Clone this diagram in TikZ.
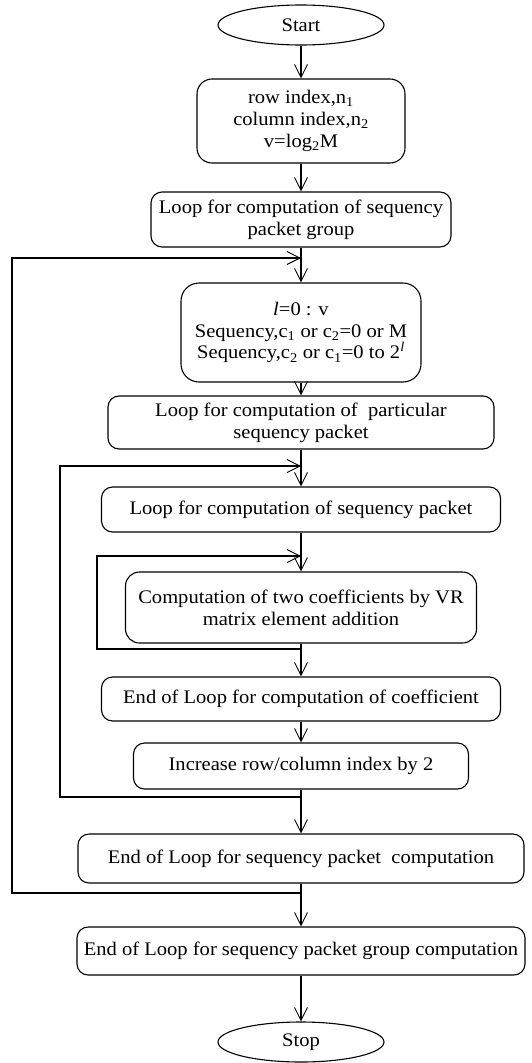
\documentclass[tikz,border=0pt]{standalone}
\usepackage{fontspec}
\setmainfont{Liberation Serif}[FakeStretch=1.07]
\usetikzlibrary{shapes.geometric,arrows.meta}
\begin{document}
\begin{tikzpicture}[x=1pt,y=-1pt,
  every node/.style={font=\fontsize{19.2}{21.8}\selectfont, align=center, inner sep=0pt},
  box/.style={draw, line width=1.1pt, rounded corners=11pt},
  term/.style={draw, line width=1.1pt, ellipse, minimum width=166pt, minimum height=40pt},
  flow/.style={line width=1.1pt, -{Straight Barb[length=13pt,width=13pt,line width=0.9pt]}},
  link/.style={line width=1.1pt}]
\useasboundingbox (0,0) rectangle (531,1063);

\node[term] (start) at (301,25) {Start};
\node[box, minimum width=208pt, minimum height=84pt, rounded corners=15pt] (init) at (301,121)
  {row index,n\textsubscript{1}\\column index,n\textsubscript{2}\\v=log\textsubscript{2}M};
\node[box, minimum width=300pt, minimum height=55pt] (grp) at (301,219.5)
  {Loop for computation of sequency\\packet group};
\node[box, minimum width=240pt, minimum height=99pt, rounded corners=18pt] (seq) at (301,332.5)
  {\textit{l}=0 : v\\Sequency,c\textsubscript{1} or c\textsubscript{2}=0 or M\\Sequency,c\textsubscript{2} or c\textsubscript{1}=0 to 2\textsuperscript{\textit{l}}};
\node[box, minimum width=386pt, minimum height=53pt] (part) at (301,422.5)
  {Loop for computation of~ particular\\sequency packet};
\node[box, minimum width=399pt, minimum height=45pt] (pkt) at (301,509.5)
  {Loop for computation of sequency packet};
\node[box, minimum width=351pt, minimum height=71pt, rounded corners=14pt] (coef) at (301,607.5)
  {Computation of two coefficients by VR\\matrix element addition};
\node[box, minimum width=399pt, minimum height=44pt] (endc) at (301,699)
  {End of Loop for computation of coefficient};
\node[box, minimum width=335pt, minimum height=46pt] (inc) at (301,766)
  {Increase row/column index by 2};
\node[box, minimum width=446pt, minimum height=49pt] (endp) at (301,858.5)
  {End of Loop for sequency packet~ computation};
\node[box, minimum width=448pt, minimum height=48pt] (endg) at (301,951)
  {End of Loop for sequency packet group computation};
\node[term] (stop) at (301,1042) {Stop};

% junction points on the main spine
\coordinate (j1) at (301,258);
\coordinate (j2) at (301,466);
\coordinate (j3) at (301,556);
\coordinate (r3) at (301,649);
\coordinate (r2) at (301,797);
\coordinate (r1) at (301,893);

% main flow
\draw[flow] (start) -- (init);
\draw[flow] (init) -- (grp);
\draw[flow] (grp) -- (seq);
\draw[flow] (seq) -- (part);
\draw[flow] (part) -- (pkt);
\draw[flow] (pkt) -- (coef);
\draw[flow] (coef) -- (endc);
\draw[flow] (endc) -- (inc);
\draw[flow] (inc) -- (endp);
\draw[flow] (endp) -- (endg);
\draw[flow] (endg) -- (stop);

% loop-back connectors
\draw[link] (coef.south) -- (r3);
\draw[flow] (r3) -- (97,649) -- (97,556) -- (j3);
\draw[link] (inc.south) -- (r2);
\draw[flow] (r2) -- (60,797) -- (60,466) -- (j2);
\draw[link] (endp.south) -- (r1);
\draw[flow] (r1) -- (12,893) -- (12,258) -- (j1);
\end{tikzpicture}
\end{document}
